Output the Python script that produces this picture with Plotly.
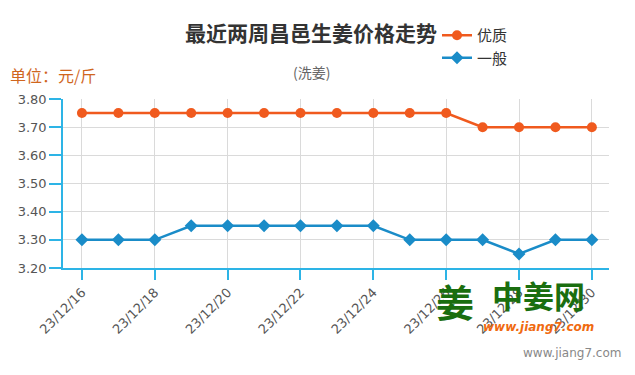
import plotly.graph_objects as go

# ---- data ----
dates = ["23/12/16", "23/12/17", "23/12/18", "23/12/19", "23/12/20", "23/12/21", "23/12/22",
         "23/12/23", "23/12/24", "23/12/25", "23/12/26", "23/12/27", "23/12/28", "23/12/29", "23/12/30"]
premium = [3.75, 3.75, 3.75, 3.75, 3.75, 3.75, 3.75, 3.75, 3.75, 3.75, 3.75, 3.70, 3.70, 3.70, 3.70]
ordinary = [3.30, 3.30, 3.30, 3.35, 3.35, 3.35, 3.35, 3.35, 3.35, 3.30, 3.30, 3.30, 3.25, 3.30, 3.30]
series_names = ["优质", "一般"]
y_ticks = [3.20, 3.30, 3.40, 3.50, 3.60, 3.70, 3.80]
x_ticks = dates[::2]

# page offset (browser body margin)
OFF = 8
W, H = 635 - OFF, 375 - OFF
# plot area in page pixels
PL, PR, PT, PB = 63, 609, 99, 268
L, R, T, B = PL - OFF, PR - OFF, PT - OFF, PB - OFF

def px_x(x):
    return (x - PL) / (PR - PL)

def px_y(y):
    return (PB - y) / (PB - PT)

ORANGE = "#f05a1e"
BLUE = "#1a8cc8"
AXIS = "#2db4e6"
CJK = "Noto Sans CJK SC, Microsoft YaHei, sans-serif"
NUM = "DejaVu Sans, Verdana, sans-serif"

fig = go.Figure()
fig.add_trace(go.Scatter(
    x=dates, y=premium, name=series_names[0], mode="lines+markers",
    line=dict(color=ORANGE, width=2.5),
    marker=dict(symbol="circle", size=10, color=ORANGE),
))
fig.add_trace(go.Scatter(
    x=dates, y=ordinary, name=series_names[1], mode="lines+markers",
    line=dict(color=BLUE, width=2.5),
    marker=dict(symbol="diamond", size=10, color=BLUE),
))

def note(text, x, y, size, color, family=CJK, xanchor="center"):
    return dict(text=text, x=px_x(x), y=px_y(y), xref="paper", yref="paper",
                xanchor=xanchor, yanchor="middle", showarrow=False,
                font=dict(family=family, size=size, color=color))

fig.update_layout(
    width=W, height=H, autosize=False,
    margin=dict(l=L, r=W - R, t=T, b=H - B, pad=0, autoexpand=False),
    paper_bgcolor="white", plot_bgcolor="white",
    title=dict(text="<b>最近两周昌邑生姜价格走势</b>", x=(311 - OFF) / W, xanchor="center",
               y=1 - (34 - OFF) / H, yanchor="middle", yref="container",
               font=dict(family=CJK, size=21, color="#333333")),
    showlegend=True,
    legend=dict(x=px_x(437), xanchor="left", y=px_y(19), yanchor="top",
                font=dict(family=CJK, size=15, color="#333333"),
                bgcolor="rgba(0,0,0,0)", tracegroupgap=0, itemwidth=30),
    xaxis=dict(type="category", range=[-0.52, 14.47], tickvals=x_ticks, ticktext=x_ticks,
               tickangle=-45, showgrid=True, gridcolor="#dadada", gridwidth=1,
               showline=True, linecolor=AXIS, linewidth=1.5,
               ticks="outside", ticklen=10, tickcolor=AXIS, tickwidth=1.5,
               tickfont=dict(family=NUM, size=13, color="#555555"), zeroline=False,
               automargin=False),
    yaxis=dict(range=[3.2, 3.8], tickvals=y_ticks, tickformat=".2f",
               showgrid=True, gridcolor="#dadada", gridwidth=1,
               showline=True, linecolor=AXIS, linewidth=1.5,
               ticks="outside", ticklen=12, tickcolor=AXIS, tickwidth=1.5,
               tickfont=dict(family=NUM, size=13, color="#555555"), zeroline=False,
               automargin=False),
    annotations=[
        note("(洗姜)", 311, 72, 14, "#666666"),
        note("单位：元/斤", 8, 75, 16, "#d0661e", xanchor="left"),
        note("<b>姜</b>", 455, 300, 38, "#1a6e0f"),
        note("<b>中姜网</b>", 538, 294, 31, "#1a6e0f"),
        note("<b><i>www.jiang7.com</i></b>", 538, 327, 12, "#f06a10", family="DejaVu Sans, sans-serif"),
        note("www.jiang7.com", 623, 353, 12, "#888888", family="DejaVu Sans, sans-serif", xanchor="right"),
    ],
    shapes=[
        dict(type="line", xref="paper", yref="paper", x0=px_x(633), x1=px_x(633),
             y0=px_y(OFF), y1=px_y(375), line=dict(color="#dddddd", width=1)),
    ],
)

fig.write_html("out.html")
